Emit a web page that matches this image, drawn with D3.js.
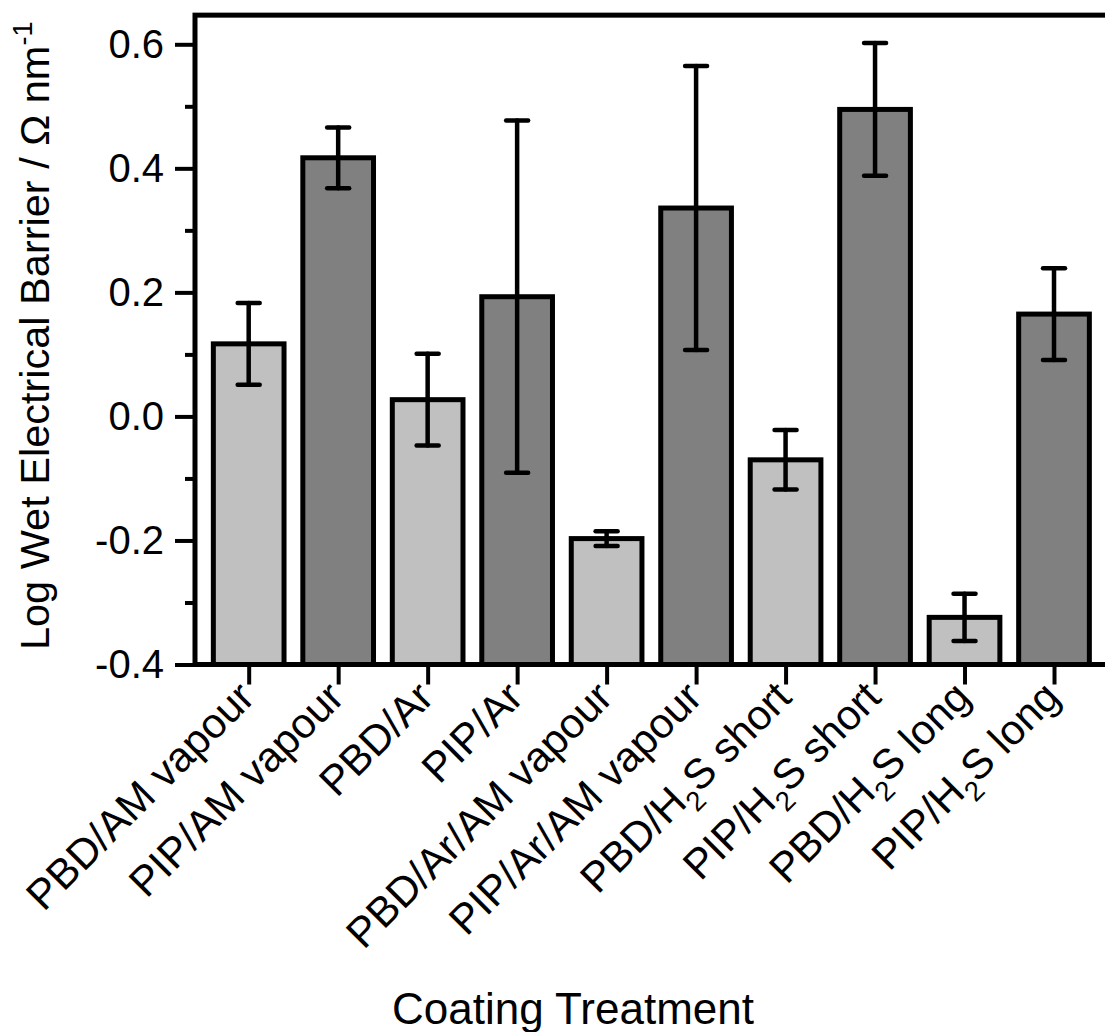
<!DOCTYPE html>
<html>
<head>
<meta charset="utf-8">
<script src="https://cdn.jsdelivr.net/npm/d3@7"></script>
<style>
  html, body { margin: 0; padding: 0; background: #fff; }
  svg { display: block; font-family: Arial, "Liberation Sans", sans-serif; }
</style>
</head>
<body>
<svg id="chart" width="1105" height="1032"></svg>
<script>
// Coating treatments, in plotting order
const categories = [
  "PBD/AM vapour", "PIP/AM vapour", "PBD/Ar", "PIP/Ar",
  "PBD/Ar/AM vapour", "PIP/Ar/AM vapour",
  "PBD/H2S short", "PIP/H2S short", "PBD/H2S long", "PIP/H2S long"
];
// Mean log wet electrical barrier and its error
const values = [0.117, 0.417, 0.027, 0.193, -0.197, 0.336, -0.070, 0.495, -0.324, 0.165];
const errors = [0.066, 0.049, 0.074, 0.284, 0.012, 0.229, 0.048, 0.107, 0.038, 0.074];
// Polymer of each treatment (PBD light, PIP dark)
const polymer = ["PBD", "PIP", "PBD", "PIP", "PBD", "PIP", "PBD", "PIP", "PBD", "PIP"];
const majorTicks = [-0.4, -0.2, 0.0, 0.2, 0.4, 0.6];
const minorTicks = [-0.3, -0.1, 0.1, 0.3, 0.5];
const tickLabels = ["-0.4", "-0.2", "0.0", "0.2", "0.4", "0.6"];

const svg = d3.select("#chart");
const tickFont = 40;
const catFont = 42;

const y = d3.scaleLinear().domain([-0.4, 0.6]).range([664.5, 44.3]);
const yTop = 0.647;
const x = d3.scaleLinear().domain([0.4, 10.6]).range([195, 1107.7]);
const barW = x(1.79) - x(1);
const fill = d3.scaleOrdinal().domain(["PBD", "PIP"]).range(["#c0c0c0", "#808080"]);

const data = categories.map((c, i) => ({
  name: c, pos: i + 1, v: values[i], e: errors[i], p: polymer[i]
}));

// bars, rising from the bottom of the axis
svg.append("g").selectAll("rect").data(data).join("rect")
  .attr("x", d => x(d.pos) - barW / 2)
  .attr("width", barW)
  .attr("y", d => y(d.v))
  .attr("height", d => y(-0.4) - y(d.v))
  .attr("fill", d => fill(d.p))
  .attr("stroke", "#000")
  .attr("stroke-width", 5);

// error bars
const eg = svg.append("g").attr("stroke", "#000").attr("stroke-width", 4.5).attr("stroke-linecap", "round");
data.forEach(d => {
  const cx = x(d.pos), capW = 11;
  eg.append("line").attr("x1", cx).attr("x2", cx).attr("y1", y(d.v + d.e)).attr("y2", y(d.v - d.e));
  eg.append("line").attr("x1", cx - capW).attr("x2", cx + capW).attr("y1", y(d.v + d.e)).attr("y2", y(d.v + d.e));
  eg.append("line").attr("x1", cx - capW).attr("x2", cx + capW).attr("y1", y(d.v - d.e)).attr("y2", y(d.v - d.e));
});

// frame
const frame = svg.append("g").attr("stroke", "#000").attr("stroke-width", 5).attr("fill", "none");
frame.append("rect")
  .attr("x", x(0.4)).attr("y", y(yTop))
  .attr("width", x(10.6) - x(0.4)).attr("height", y(-0.4) - y(yTop));

// y axis: major ticks with labels, minor ticks
const yAxis = d3.axisLeft(y).tickValues(majorTicks).tickSize(20).tickPadding(11)
  .tickFormat((d, i) => tickLabels[i]);
const gy = svg.append("g").attr("transform", `translate(${x(0.4)},0)`).call(yAxis);
gy.select(".domain").remove();
gy.selectAll(".tick line").attr("stroke", "#000").attr("stroke-width", 4);
gy.selectAll(".tick text").attr("font-size", tickFont).attr("fill", "#000")
  .attr("font-family", "Arial, 'Liberation Sans', sans-serif");
const gym = svg.append("g").attr("transform", `translate(${x(0.4)},0)`)
  .call(d3.axisLeft(y).tickValues(minorTicks).tickSize(10).tickFormat(""));
gym.select(".domain").remove();
gym.selectAll(".tick line").attr("stroke", "#000").attr("stroke-width", 4);

// x axis ticks
const gx = svg.append("g").attr("transform", `translate(0,${y(-0.4)})`)
  .call(d3.axisBottom(x).tickValues(data.map(d => d.pos)).tickSize(20).tickFormat(""));
gx.select(".domain").remove();
gx.selectAll(".tick line").attr("stroke", "#000").attr("stroke-width", 4);

// rotated category labels, with subscript 2 in H2S
const lab = svg.append("g").selectAll("text").data(data).join("text")
  .attr("transform", d => `translate(${x(d.pos) + 8},${y(-0.4) + 35}) rotate(-45)`)
  .attr("text-anchor", "end")
  .attr("font-size", catFont)
  .attr("fill", "#000");
lab.each(function(d) {
  const t = d3.select(this);
  const parts = d.name.split("H2S");
  if (parts.length === 1) { t.text(d.name); return; }
  t.append("tspan").text(parts[0] + "H");
  t.append("tspan").attr("font-size", catFont * 0.66).attr("dy", 12).text("2");
  t.append("tspan").attr("dy", -12).text("S" + parts[1]);
});

// axis titles
svg.append("text")
  .attr("transform", `translate(49,${(y(yTop) + y(-0.4)) / 2 - 4}) rotate(-90)`)
  .attr("text-anchor", "middle").attr("font-size", 41.5).attr("fill", "#000")
  .call(t => {
    t.append("tspan").text("Log Wet Electrical Barrier / \u03A9 nm");
    t.append("tspan").attr("font-size", 27).attr("dy", -17).text("-1");
  });
svg.append("text")
  .attr("x", 573).attr("y", 1024)
  .attr("text-anchor", "middle").attr("font-size", 44).attr("fill", "#000")
  .text("Coating Treatment");
</script>
</body>
</html>
